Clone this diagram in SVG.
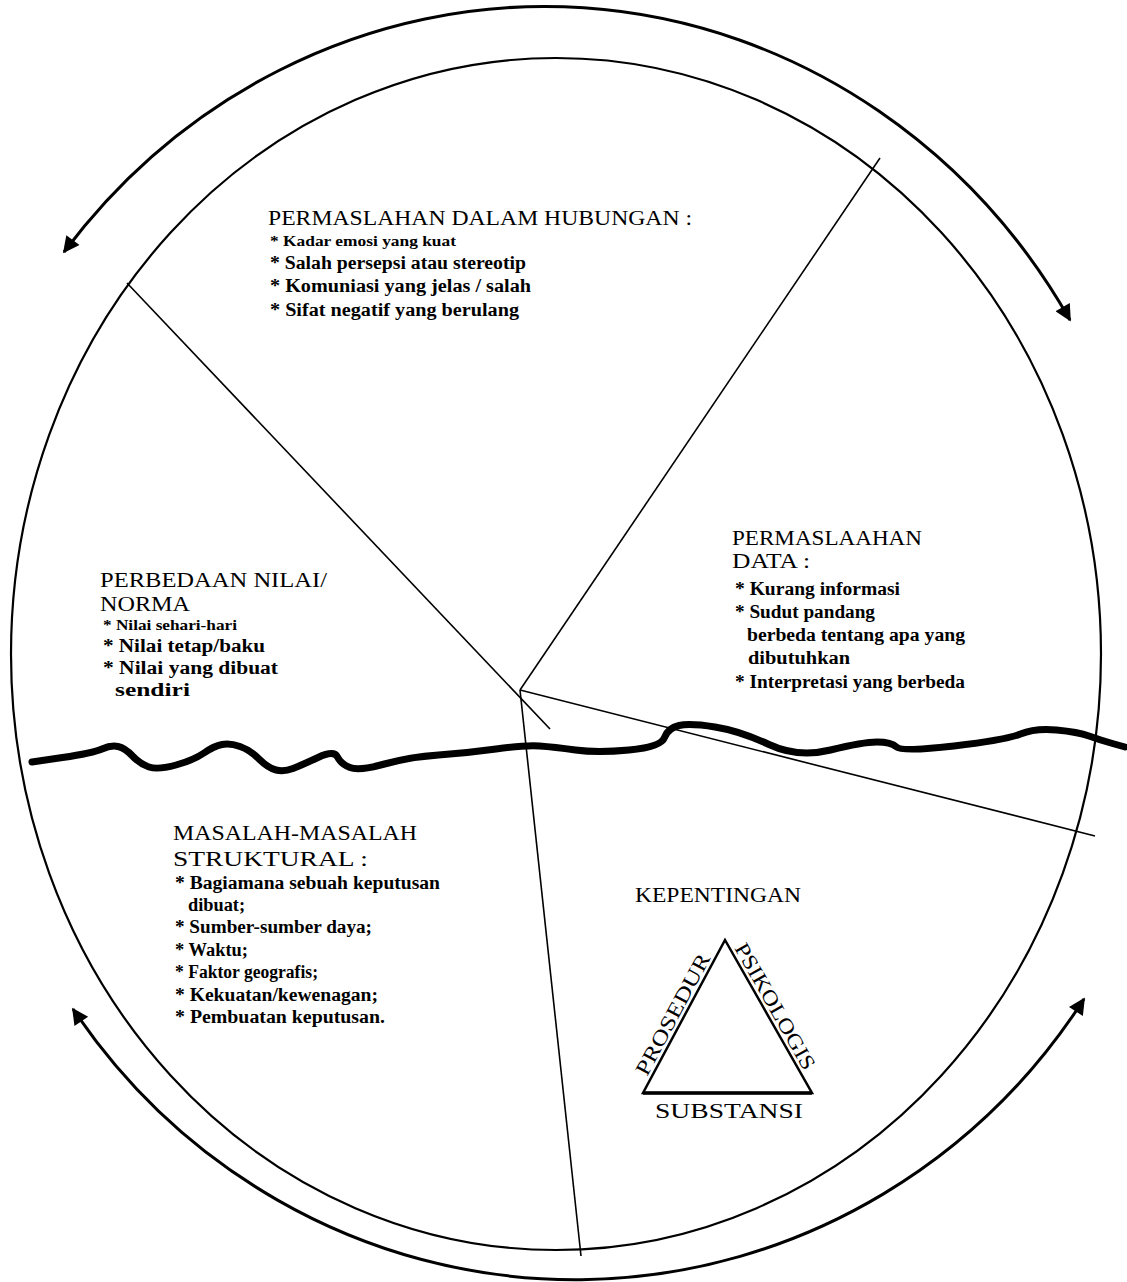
<svg xmlns="http://www.w3.org/2000/svg" width="1127" height="1282" viewBox="0 0 1127 1282">
<style>
  .t { font-family: "Liberation Serif", "Times New Roman", serif; fill: #000; }
  .h { font-size: 22px; font-weight: normal; }
  .b { font-size: 18px; font-weight: bold; }
  .s { font-size: 15px; font-weight: bold; }
  .ring { fill: none; stroke: #000; stroke-width: 2.2; }
  .arc { fill: none; stroke: #000; stroke-width: 3; }
  .rad { fill: none; stroke: #000; stroke-width: 1.6; }
  .wave { fill: none; stroke: #000; stroke-width: 7; stroke-linejoin: round; stroke-linecap: round; }
</style>
<defs>
  <marker id="ah" viewBox="0 0 10 10" refX="9" refY="5" markerWidth="6.5" markerHeight="5.5" markerUnits="strokeWidth" orient="auto-start-reverse">
    <path d="M0,0 L10,5 L0,10 Z" fill="#000"/>
  </marker>
</defs>
<rect x="0" y="0" width="1127" height="1282" fill="#fff"/>

<g id="outer-arrows">
  <path class="arc" d="M 64 252 A 613 647 0 0 1 1070 320" marker-start="url(#ah)" marker-end="url(#ah)"/>
  <path class="arc" d="M 73 1009 A 610 626 0 0 0 1084 999" marker-start="url(#ah)" marker-end="url(#ah)"/>
</g>

<g id="circle">
  <ellipse class="ring" cx="556" cy="654" rx="545" ry="596"/>
</g>

<g id="connectors">
  <line class="rad" x1="127" y1="283" x2="550" y2="729"/>
  <line class="rad" x1="880" y1="158" x2="520" y2="690"/>
  <line class="rad" x1="520" y1="690" x2="1095" y2="836"/>
  <line class="rad" x1="520" y1="690" x2="581" y2="1256"/>
</g>

<g id="wave-line">
  <path class="wave" d="M32,762 L62.5,757.5 Q93,753 102,749 Q111,745 118,746.5 Q125,748 132.5,756 Q140,764 149,767 Q158,770 176,765 Q194,760 204,753 Q214,746 222,744.5 Q230,743 240,746.5 Q250,750 259,759 Q268,768 276,770 Q284,772 293,768.5 Q302,765 318,757.5 Q334,750 337.5,757 Q341,764 350,767.5 Q359,771 384.5,764 Q410,757 438.5,755 Q467,753 496,749 Q525,745 539.5,746 Q554,747 575.5,750 Q597,753 629,750 Q661,747 664.5,737.5 Q668,728 679,725.5 Q690,723 715,727 Q740,731 769,744.5 Q798,758 830.5,750 Q863,742 877,742 Q891,742 896.5,747 Q902,752 954,746 Q1006,740 1020.5,734 Q1035,728 1056.5,730 Q1078,732 1089,736 Q1100,740 1112.5,743.5 L1125,747"/>
</g>

<g id="node-hubungan">
  <text class="t h" x="268" y="225" textLength="424" lengthAdjust="spacingAndGlyphs">PERMASLAHAN DALAM HUBUNGAN :</text>
  <text class="t s" x="270" y="246" textLength="186" lengthAdjust="spacingAndGlyphs">* Kadar emosi yang kuat</text>
  <text class="t b" x="270" y="269" textLength="256" lengthAdjust="spacingAndGlyphs">* Salah persepsi atau stereotip</text>
  <text class="t b" x="270" y="292" textLength="261" lengthAdjust="spacingAndGlyphs">* Komuniasi yang jelas / salah</text>
  <text class="t b" x="270" y="316" textLength="249" lengthAdjust="spacingAndGlyphs">* Sifat negatif yang berulang</text>
</g>

<g id="node-data">
  <text class="t h" x="732" y="545" textLength="190" lengthAdjust="spacingAndGlyphs">PERMASLAAHAN</text>
  <text class="t h" x="732" y="568" textLength="78" lengthAdjust="spacingAndGlyphs">DATA :</text>
  <text class="t b" x="735" y="595" textLength="165" lengthAdjust="spacingAndGlyphs">* Kurang informasi</text>
  <text class="t b" x="735" y="618" textLength="140" lengthAdjust="spacingAndGlyphs">* Sudut pandang</text>
  <text class="t b" x="747" y="641" textLength="218" lengthAdjust="spacingAndGlyphs">berbeda tentang apa yang</text>
  <text class="t b" x="748" y="664" textLength="102" lengthAdjust="spacingAndGlyphs">dibutuhkan</text>
  <text class="t b" x="735" y="688" textLength="230" lengthAdjust="spacingAndGlyphs">* Interpretasi yang berbeda</text>
</g>

<g id="node-nilai">
  <text class="t" font-size="21" x="100" y="587" textLength="227" lengthAdjust="spacingAndGlyphs">PERBEDAAN NILAI/</text>
  <text class="t" font-size="21" x="100" y="611" textLength="90" lengthAdjust="spacingAndGlyphs">NORMA</text>
  <text class="t s" x="103" y="630" textLength="134" lengthAdjust="spacingAndGlyphs">* Nilai sehari-hari</text>
  <text class="t b" x="103" y="652" textLength="162" lengthAdjust="spacingAndGlyphs">* Nilai tetap/baku</text>
  <text class="t b" x="103" y="674" textLength="175" lengthAdjust="spacingAndGlyphs">* Nilai yang dibuat</text>
  <text class="t b" x="115" y="696" textLength="75" lengthAdjust="spacingAndGlyphs">sendiri</text>
</g>

<g id="node-struktural">
  <text class="t h" x="173" y="840" textLength="244" lengthAdjust="spacingAndGlyphs">MASALAH-MASALAH</text>
  <text class="t h" x="173" y="866" textLength="195" lengthAdjust="spacingAndGlyphs">STRUKTURAL :</text>
  <text class="t b" x="175" y="889" textLength="265" lengthAdjust="spacingAndGlyphs">* Bagiamana sebuah keputusan</text>
  <text class="t b" x="188" y="911" textLength="57" lengthAdjust="spacingAndGlyphs">dibuat;</text>
  <text class="t b" x="175" y="933" textLength="197" lengthAdjust="spacingAndGlyphs">* Sumber-sumber daya;</text>
  <text class="t b" x="175" y="956" textLength="73" lengthAdjust="spacingAndGlyphs">* Waktu;</text>
  <text class="t b" x="175" y="978" textLength="143" lengthAdjust="spacingAndGlyphs">* Faktor geografis;</text>
  <text class="t b" x="175" y="1001" textLength="203" lengthAdjust="spacingAndGlyphs">* Kekuatan/kewenagan;</text>
  <text class="t b" x="175" y="1023" textLength="210" lengthAdjust="spacingAndGlyphs">* Pembuatan keputusan.</text>
</g>

<g id="node-kepentingan">
  <text class="t" font-size="20" x="635" y="902" textLength="166" lengthAdjust="spacingAndGlyphs">KEPENTINGAN</text>
  <polygon points="725,940 643,1093 812,1093" fill="none" stroke="#000" stroke-width="2.5" stroke-linejoin="miter"/>
  <line x1="643" y1="1093" x2="812" y2="1093" stroke="#000" stroke-width="3.5"/>
  <text class="t" font-size="21" transform="translate(647,1077) rotate(-61.8)" x="0" y="0" textLength="135" lengthAdjust="spacingAndGlyphs">PROSEDUR</text>
  <text class="t" font-size="21" transform="translate(734,948) rotate(60.4)" x="0" y="0" textLength="142" lengthAdjust="spacingAndGlyphs">PSIKOLOGIS</text>
  <text class="t" font-size="20" x="655" y="1118" textLength="148" lengthAdjust="spacingAndGlyphs">SUBSTANSI</text>
</g>
</svg>
